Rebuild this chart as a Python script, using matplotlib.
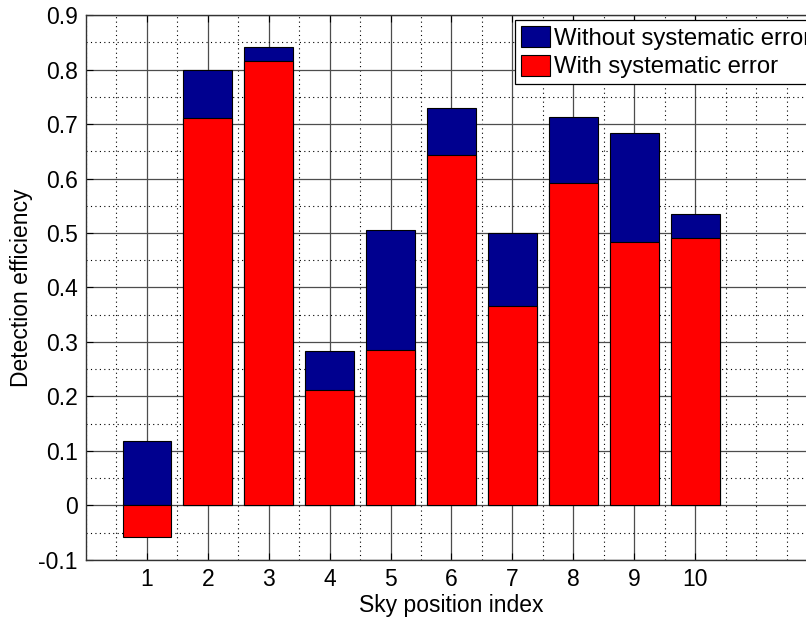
import matplotlib
matplotlib.use("Agg")
import matplotlib.pyplot as plt
from matplotlib.ticker import MultipleLocator

plt.rcParams['font.family'] = ['Liberation Sans', 'DejaVu Sans']

# sky position index and detection efficiencies
positions = [1, 2, 3, 4, 5, 6, 7, 8, 9, 10]
without_sys = [0.119, 0.800, 0.842, 0.284, 0.505, 0.730, 0.500, 0.713, 0.683, 0.535]
with_sys = [-0.057, 0.711, 0.815, 0.211, 0.285, 0.643, 0.366, 0.591, 0.484, 0.490]

fs = 16.5

fig = plt.figure(figsize=(8.06, 6.18), dpi=100)
ax = fig.add_axes([0.1067, 0.0939, 0.9069, 0.8818])

ax.bar(positions, without_sys, width=0.8, color='#00008f', edgecolor='black',
       linewidth=0.8, label='Without systematic error', zorder=3)
ax.bar(positions, with_sys, width=0.8, color='#ff0000', edgecolor='black',
       linewidth=0.8, label='With systematic error', zorder=3)

ax.set_xlim(0, 12)
ax.set_ylim(-0.1, 0.9)
ax.set_xticks(positions)
ax.set_yticks([-0.1, 0, 0.1, 0.2, 0.3, 0.4, 0.5, 0.6, 0.7, 0.8, 0.9])
ax.set_yticklabels(['-0.1', '0', '0.1', '0.2', '0.3', '0.4', '0.5', '0.6', '0.7', '0.8', '0.9'])
ax.xaxis.set_minor_locator(MultipleLocator(0.5))
ax.yaxis.set_minor_locator(MultipleLocator(0.05))

ax.set_axisbelow(True)
ax.grid(which='major', color='0.3', linestyle='-', linewidth=0.9)
ax.grid(which='minor', color='black', linestyle=(0, (1, 3)), linewidth=0.8)

ax.tick_params(which='both', direction='in', top=True, right=True, labelsize=fs)
ax.tick_params(which='major', length=5, pad=6)
ax.tick_params(which='minor', length=0)
for s in ax.spines.values():
    s.set_linewidth(1.0)
    s.set_color('0.2')

ax.set_xlabel('Sky position index', fontsize=fs, labelpad=2)
ax.set_ylabel('Detection efficiency', fontsize=fs, labelpad=4)

# legend runs past the right edge of the picture, as in the original
leg = ax.legend(loc='upper right', bbox_to_anchor=(1.0, 0.991), fontsize=17.2,
                fancybox=False, framealpha=1, edgecolor='black',
                handlelength=1.21, handleheight=1.0, handletextpad=0.17,
                labelspacing=0.2, borderpad=0.25, borderaxespad=0.0)
leg.get_frame().set_linewidth(0.9)

fig.savefig('out.png', dpi=100)
